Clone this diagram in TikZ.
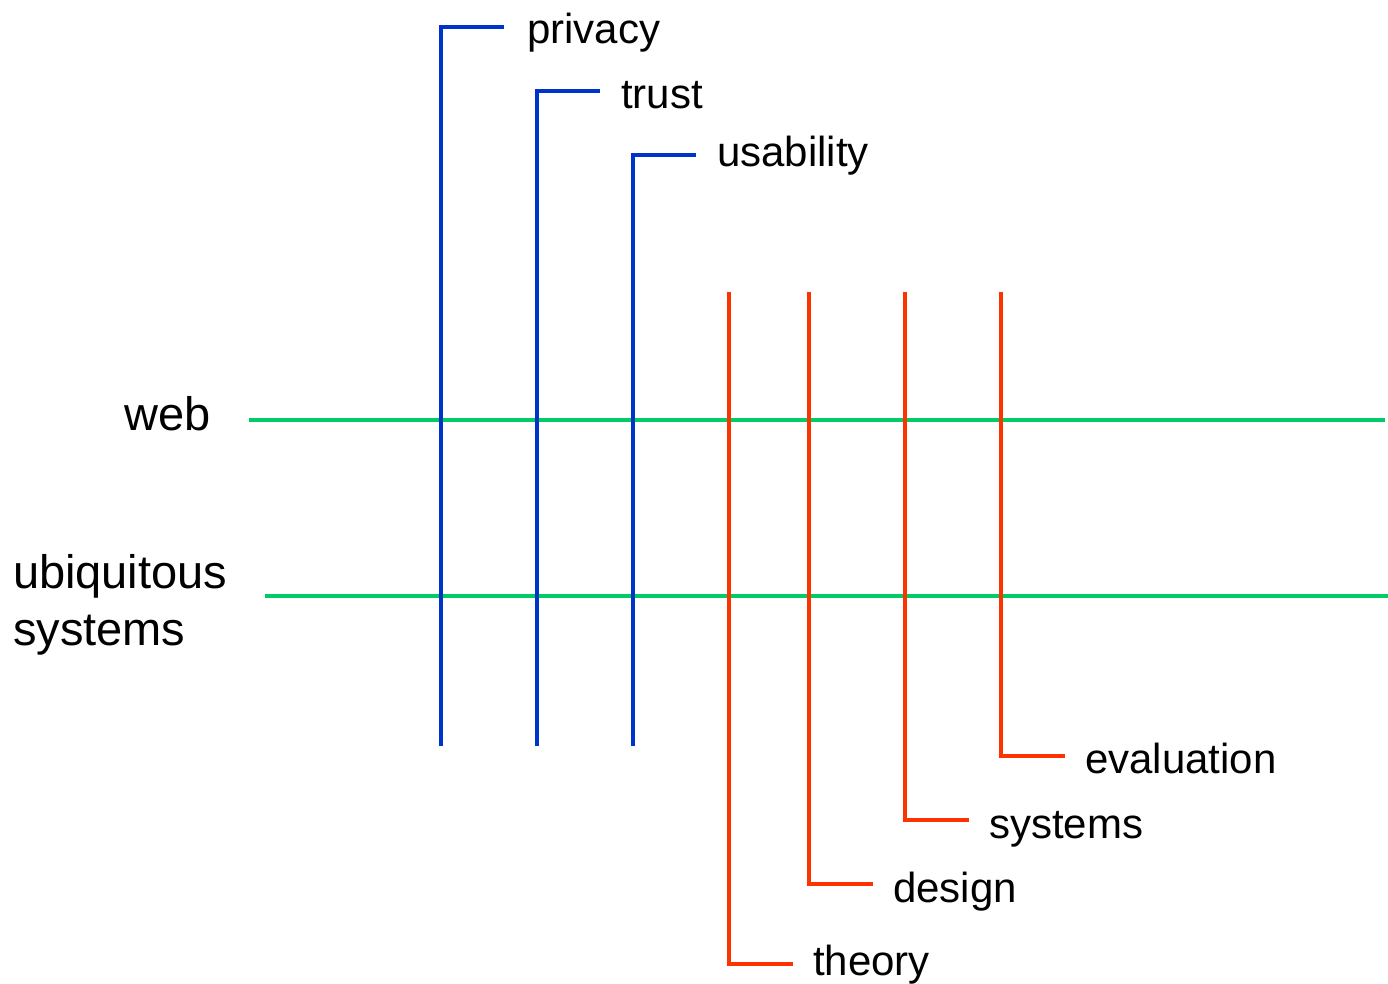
\documentclass[tikz,border=0pt]{standalone}
\usepackage{fontspec}
\setmainfont{Liberation Sans}
\definecolor{lineblue}{HTML}{0033CC}
\definecolor{linered}{HTML}{FF3300}
\definecolor{linegreen}{HTML}{00CC66}
\begin{document}
\begin{tikzpicture}[x=1pt,y=-1pt,
  lbl/.style={inner sep=0pt,outer sep=0pt,font=\fontsize{42}{50}\selectfont,text=black},
  biglbl/.style={lbl,font=\fontsize{47}{56}\selectfont},
  bluebar/.style={draw=lineblue,line width=3.5pt},
  redbar/.style={draw=linered,line width=3.5pt},
  greenbar/.style={draw=linegreen,line width=3.5pt}]
\useasboundingbox (0,0) rectangle (1388,984);
% green rows
\coordinate (w1) at (249,420); \coordinate (w2) at (1385,420);
\coordinate (u1) at (265,596); \coordinate (u2) at (1388,596);
\draw[greenbar] (w1) -- (w2);
\draw[greenbar] (u1) -- (u2);
\node[biglbl,anchor=base east] (web) at (211,430) {web};
\node[biglbl,anchor=base west] (ubi) at (13,588) {ubiquitous};
\node[biglbl,anchor=base west] (sys) at (13,645) {systems};
% blue columns
\coordinate (pb) at (441,746); \coordinate (pc) at (441,27); \coordinate (pe) at (504,27);
\coordinate (tb) at (537,746); \coordinate (tc) at (537,91); \coordinate (te) at (600,91);
\coordinate (ub) at (633,746); \coordinate (uc) at (633,155); \coordinate (ue) at (696,155);
\draw[bluebar] (pb) -- (pc) -- (pe);
\draw[bluebar] (tb) -- (tc) -- (te);
\draw[bluebar] (ub) -- (uc) -- (ue);
\node[lbl,anchor=base west] (privacy) at (527,44) {privacy};
\node[lbl,anchor=base west] (trust) at (621,109) {trust};
\node[lbl,anchor=base west] (usability) at (717,167) {usability};
% red columns
\coordinate (ta) at (729,292); \coordinate (tk) at (729,964); \coordinate (tz) at (793,964);
\coordinate (da) at (809,292); \coordinate (dk) at (809,884); \coordinate (dz) at (873,884);
\coordinate (sa) at (905,292); \coordinate (sk) at (905,820); \coordinate (sz) at (969,820);
\coordinate (ea) at (1001,292); \coordinate (ek) at (1001,756); \coordinate (ez) at (1065,756);
\draw[redbar] (ta) -- (tk) -- (tz);
\draw[redbar] (da) -- (dk) -- (dz);
\draw[redbar] (sa) -- (sk) -- (sz);
\draw[redbar] (ea) -- (ek) -- (ez);
\node[lbl,anchor=base west] (theory) at (813,975) {theory};
\node[lbl,anchor=base west] (design) at (893,902) {design};
\node[lbl,anchor=base west] (systems) at (989,838) {systems};
\node[lbl,anchor=base west] (evaluation) at (1085,773) {evaluation};
\end{tikzpicture}
\end{document}
